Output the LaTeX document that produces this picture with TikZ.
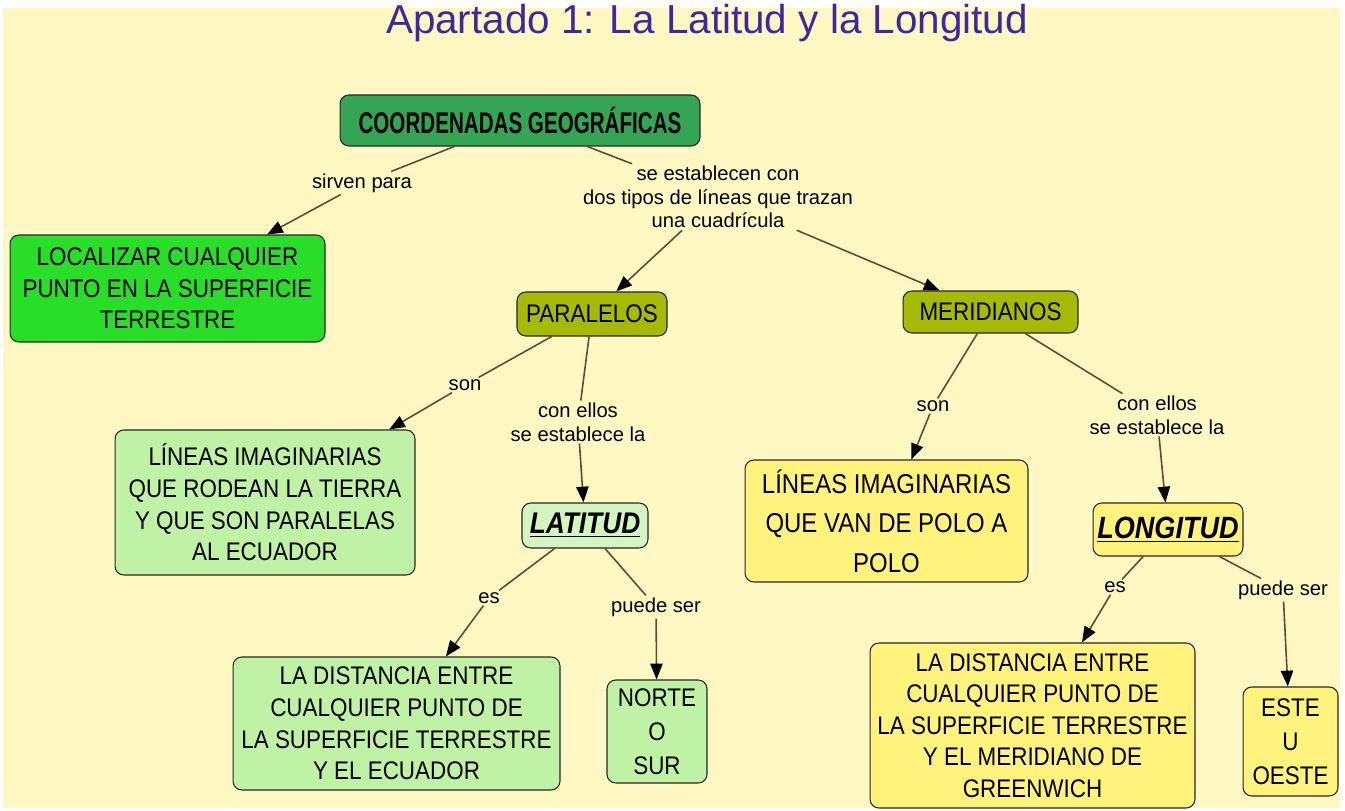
\documentclass[tikz,border=0pt]{standalone}
\usepackage{fontspec}
\setmainfont{Liberation Sans}
\newfontfamily\boxfont[FakeStretch=0.88]{Liberation Sans}
\newfontfamily\headfont[FakeStretch=0.69]{Liberation Sans}
\usetikzlibrary{arrows.meta}

\definecolor{paper}{RGB}{255,248,194}
\definecolor{titleblue}{RGB}{60,40,160}
\definecolor{darkgreen}{RGB}{52,165,82}
\definecolor{brightgreen}{RGB}{40,222,40}
\definecolor{olive}{RGB}{165,185,5}
\definecolor{palegreen}{RGB}{192,242,165}
\definecolor{paleyellow}{RGB}{255,242,125}
\definecolor{linkbrown}{RGB}{105,70,50}

\tikzset{
  concept/.style={draw=black!85, rounded corners=5pt, align=center, inner sep=2pt,
    line width=0.6pt, font=\boxfont\fontsize{14.5}{18}\selectfont},
  phrase/.style={align=center, inner sep=1pt, font=\fontsize{11.5}{13.5}\selectfont},
  link/.style={draw=linkbrown, line width=0.9pt},
  arrow/.style={link, -{Triangle[length=9pt,width=7pt,color=black]}}
}

\begin{document}
\begin{tikzpicture}[x=0.02cm, y=-0.02cm]
    \fill[white] (0,0) rectangle (1345,811);
    \fill[paper] (3,8) rectangle (1340,808);
    \useasboundingbox (0,0) rectangle (1345,811);

    \node[text=titleblue, font=\fontsize{23}{26}\selectfont] (title) at (707,23)
      {Apartado 1: La Latitud y la Longitud};

    % concepts
    \node[concept, fill=darkgreen, minimum width=7.2cm, minimum height=1.02cm,
          font=\headfont\bfseries\fontsize{17}{20}\selectfont] (coord) at (520,120.5) {COORDENADAS GEOGRÁFICAS};
    \node[concept, fill=brightgreen, minimum width=6.3cm, minimum height=2.14cm] (loc) at (167.5,288.5)
      {LOCALIZAR CUALQUIER\\PUNTO EN LA SUPERFICIE\\TERRESTRE};
    \node[concept, fill=olive, minimum width=3cm, minimum height=0.88cm] (par) at (592,314) {PARALELOS};
    \node[concept, fill=olive, minimum width=3.5cm, minimum height=0.84cm] (mer) at (990.5,312) {MERIDIANOS};
    \node[concept, fill=palegreen, minimum width=6cm, minimum height=2.9cm] (linl) at (265,502.5)
      {LÍNEAS IMAGINARIAS\\QUE RODEAN LA TIERRA\\Y QUE SON PARALELAS\\AL ECUADOR};
    \node[concept, fill=palegreen!70!white, minimum width=2.52cm, minimum height=0.9cm,
          font=\boxfont\fontsize{17}{20}\selectfont] (lat) at (585,525.5)
      {\underline{\textbf{\textit{LATITUD}}}};
    \node[concept, fill=paleyellow, minimum width=5.66cm, minimum height=2.44cm,
          font=\boxfont\fontsize{15.5}{22.5}\selectfont] (linr) at (886.5,521)
      {LÍNEAS IMAGINARIAS\\QUE VAN DE POLO A\\POLO};
    \node[concept, fill=paleyellow, minimum width=3cm, minimum height=1.06cm,
          font=\boxfont\fontsize{17.5}{20}\selectfont] (lon) at (1168,529.5)
      {\underline{\textbf{\textit{LONGITUD}}}};
    \node[concept, fill=palegreen, minimum width=6.54cm, minimum height=2.66cm] (disl) at (396.5,723.5)
      {LA DISTANCIA ENTRE\\CUALQUIER PUNTO DE\\LA SUPERFICIE TERRESTRE\\Y EL ECUADOR};
    \node[concept, fill=palegreen, minimum width=2cm, minimum height=2.06cm,
          font=\boxfont\fontsize{14.5}{19.5}\selectfont] (ns) at (657,731.5) {NORTE\\O\\SUR};
    \node[concept, fill=paleyellow, minimum width=6.5cm, minimum height=3.3cm] (disr) at (1032.5,725.5)
      {LA DISTANCIA ENTRE\\CUALQUIER PUNTO DE\\LA SUPERFICIE TERRESTRE\\Y EL MERIDIANO DE\\GREENWICH};
    \node[concept, fill=paleyellow, minimum width=1.9cm, minimum height=2.18cm,
          font=\boxfont\fontsize{14.5}{19.5}\selectfont] (eo) at (1290.5,741.5) {ESTE\\U\\OESTE};

    % linking phrases
    \node[phrase] (sirven) at (362,183) {sirven para};
    \node[phrase] (trazan) at (718,197) {se establecen con\\dos tipos de líneas que trazan\\una cuadrícula};
    \node[phrase] (sonl) at (465,385) {son};
    \node[phrase] (conl) at (578,422) {con ellos\\se establece la};
    \node[phrase] (sonr) at (933,406) {son};
    \node[phrase] (conr) at (1157,415) {con ellos\\se establece la};
    \node[phrase] (esl) at (489,598) {es};
    \node[phrase] (puedel) at (656,607) {puede ser};
    \node[phrase] (esr) at (1115,587) {es};
    \node[phrase] (pueder) at (1283,590) {puede ser};

    \path (coord) edge[link] (sirven) (sirven) edge[arrow] (loc)
          (coord) edge[link] (trazan) (trazan) edge[arrow] (par)
          (trazan) edge[arrow] (mer);
    \path (par) edge[link] (sonl) (sonl) edge[arrow] (linl)
          (par) edge[link] (conl) (conl) edge[arrow] (lat);
    \path (mer) edge[link] (sonr) (sonr) edge[arrow] (linr)
          (mer) edge[link] (conr) (conr) edge[arrow] (lon);
    \path (lat) edge[link] (esl) (esl) edge[arrow] (disl)
          (lat) edge[link] (puedel) (puedel) edge[arrow] (ns);
    \path (lon) edge[link] (esr) (esr) edge[arrow] (disr)
          (lon) edge[link] (pueder) (pueder) edge[arrow] (eo);
\end{tikzpicture}
\end{document}
